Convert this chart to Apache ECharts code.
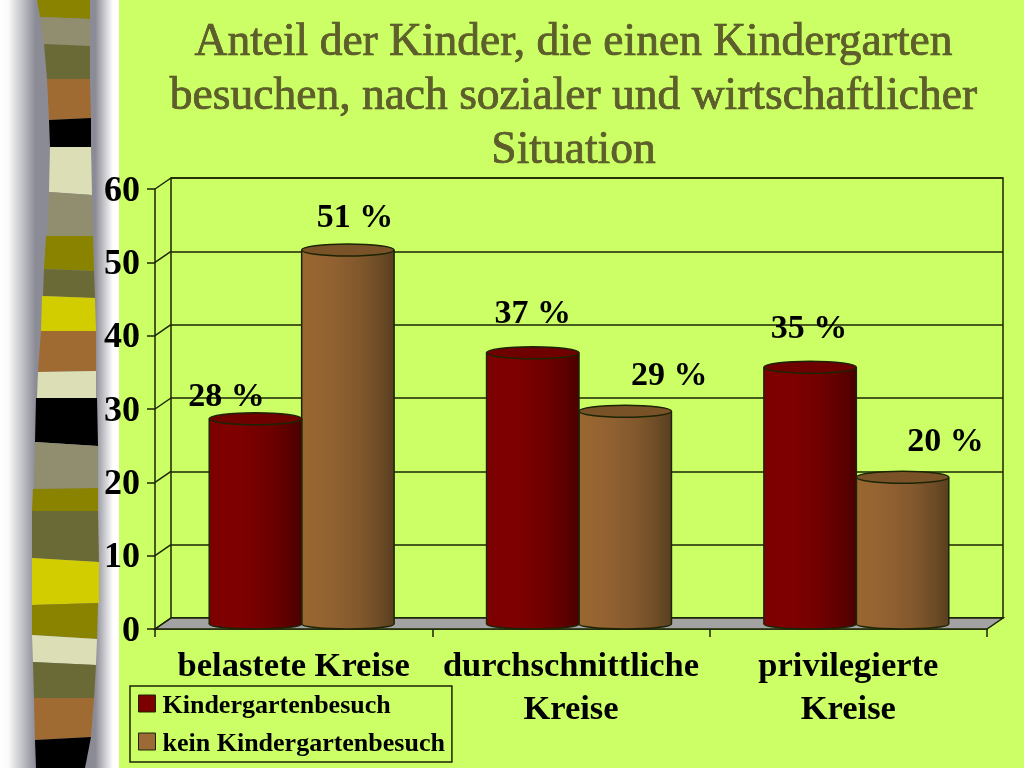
<!DOCTYPE html>
<html lang="de">
<head>
    <meta charset="UTF-8">
    <title>Anteil der Kinder</title>
    <script src="https://cdn.jsdelivr.net/npm/echarts@6/dist/echarts.min.js"></script>
    <style>
        html, body { margin: 0; padding: 0; background: #ccff66; }
        #main { width: 1024px; height: 768px; }
    </style>
</head>
<body>
<div id="main"></div>
<script>
    var titleLines = ['Anteil der Kinder, die einen Kindergarten', 'besuchen, nach sozialer und wirtschaftlicher', 'Situation'];
    var categories = ['belastete Kreise', 'durchschnittliche\nKreise', 'privilegierte\nKreise'];
    var seriesNames = ['Kindergartenbesuch', 'kein Kindergartenbesuch'];
    var besuch = [28, 37, 35];
    var keinBesuch = [51, 29, 20];
    var yTicks = [0, 10, 20, 30, 40, 50, 60];

    var ink = '#1b2404';
    var serif = '"Liberation Serif", serif';

    // the 3d look: three grids, shifted along the depth direction
    var depthX = 16, depthY = 11;

    function grad(stops) {
        return new echarts.graphic.LinearGradient(0, 0, 1, 0, stops.map(function (s) {
            return { offset: s[0], color: s[1] };
        }));
    }
    var redBody = [[0, '#7c0000'], [0.3, '#800000'], [0.65, '#6e0000'], [0.85, '#5c0000'], [1, '#4a0000']];
    var brownBody = [[0, '#99672f'], [0.3, '#936232'], [0.65, '#80572c'], [0.85, '#6c4b26'], [1, '#583e20']];

    // label shift from the bar centre, as in the original slide
    var labelShift = [
        [[-29, -21], [7, -32]],
        [[0, -38], [44, -35]],
        [[-1, -38], [43, -35]]
    ];

    function cylinder(seriesIdx, body, topColor) {
        return function (params, api) {
            var cat = api.value(0), val = api.value(1);
            var p = api.coord([cat, val]);
            var base = api.coord([cat, 0]);
            var w = api.size([1, 0])[0] / 3;
            var cx = p[0] + (seriesIdx === 0 ? -w / 2 : w / 2);
            var rx = w / 2;
            var line = { stroke: ink, lineWidth: 1.5 };
            var shift = labelShift[cat][seriesIdx];
            return {
                type: 'group',
                children: [
                    { type: 'ellipse', shape: { cx: cx, cy: base[1], rx: rx, ry: 5 }, style: { fill: grad(body), stroke: ink, lineWidth: 1.5 } },
                    { type: 'rect', shape: { x: cx - rx, y: p[1], width: w, height: base[1] - p[1] }, style: { fill: grad(body) } },
                    { type: 'line', shape: { x1: cx - rx, y1: p[1], x2: cx - rx, y2: base[1] }, style: line },
                    { type: 'line', shape: { x1: cx + rx, y1: p[1], x2: cx + rx, y2: base[1] }, style: line },
                    { type: 'ellipse', shape: { cx: cx, cy: p[1], rx: rx, ry: 6 }, style: { fill: topColor, stroke: ink, lineWidth: 1.5 } },
                    {
                        type: 'text',
                        x: cx + shift[0], y: p[1] + shift[1],
                        style: {
                            text: val + ' %', fill: '#000', align: 'center', verticalAlign: 'middle',
                            font: 'bold 34px ' + serif
                        }
                    }
                ]
            };
        };
    }

    // floor plus the slanted lines on the left wall, all hung on the front axis
    function renderWall(params, api) {
        var p = api.coord([0, api.value(0)]);
        var x = p[0] - api.size([1, 0])[0] / 2;
        var children = [
            { type: 'line', shape: { x1: x, y1: p[1], x2: x + depthX, y2: p[1] - depthY }, style: { stroke: ink, lineWidth: 1.5 } }
        ];
        if (api.value(0) === 0) {
            var w = api.size([1, 0])[0] * 3;
            children.unshift({
                type: 'polygon',
                shape: { points: [[x, p[1]], [x + depthX, p[1] - depthY], [x + w + depthX, p[1] - depthY], [x + w, p[1]]] },
                style: { fill: '#a3a3a3', stroke: ink, lineWidth: 1.5 }
            });
        }
        return { type: 'group', children: children };
    }

    // decorative strip on the left side of the slide
    var stripColors = { olive: '#8a8300', khaki: '#918d6f', dark: '#6a6a36', brown: '#a06b33', black: '#000000', cream: '#dcdfb6', yellow: '#d1cd00' };
    var stripBands = [
        ['olive', [37, 0], [90, 0], [90, 19], [40, 17]],
        ['khaki', [40, 17], [90, 19], [90, 46], [44, 44]],
        ['dark', [44, 44], [90, 46], [90, 79], [47, 79]],
        ['brown', [47, 79], [90, 79], [91, 118], [49, 120]],
        ['black', [49, 120], [91, 118], [91, 147], [50, 147]],
        ['cream', [50, 147], [91, 147], [92, 195], [49, 192]],
        ['khaki', [49, 192], [92, 195], [93, 236], [47, 236]],
        ['olive', [46, 236], [93, 236], [94, 271], [44, 269]],
        ['dark', [44, 269], [94, 271], [95, 298], [43, 296]],
        ['yellow', [42, 296], [95, 298], [96, 331], [41, 331]],
        ['brown', [41, 331], [96, 331], [96, 371], [38, 372]],
        ['cream', [38, 372], [96, 371], [96, 398], [37, 398]],
        ['black', [36, 398], [97, 398], [98, 446], [35, 442]],
        ['khaki', [35, 442], [98, 446], [98, 488], [34, 489]],
        ['olive', [33, 489], [98, 488], [98, 511], [32, 511]],
        ['dark', [32, 511], [98, 511], [99, 562], [32, 558]],
        ['yellow', [32, 558], [99, 562], [99, 603], [32, 605]],
        ['olive', [32, 605], [98, 603], [97, 639], [32, 635]],
        ['cream', [32, 635], [97, 639], [96, 665], [33, 662]],
        ['dark', [33, 662], [96, 665], [94, 698], [34, 698]],
        ['brown', [34, 698], [94, 698], [91, 737], [35, 740]],
        ['black', [35, 740], [91, 737], [85, 768], [36, 768]]
    ];
    var strip = [{
        type: 'rect', z: 0,
        shape: { x: 0, y: 0, width: 119, height: 768 },
        style: {
            fill: new echarts.graphic.LinearGradient(0, 0, 1, 0, [
                { offset: 0, color: '#ffffff' }, { offset: 0.07, color: '#fafafa' }, { offset: 0.3, color: '#8b8b96' },
                { offset: 0.8, color: '#8b8b96' }, { offset: 0.95, color: '#ffffff' }, { offset: 1, color: '#ffffff' }
            ])
        }
    }];
    stripBands.forEach(function (b) {
        strip.push({ type: 'polygon', z: 1, shape: { points: b.slice(1) }, style: { fill: stripColors[b[0]] } });
    });

    var myChart = echarts.init(document.getElementById('main'), null, { renderer: 'canvas' });

    var option = {
        animation: false,
        backgroundColor: '#ccff66',
        graphic: strip,
        title: {
            text: titleLines.join('\n'),
            left: 568.5, top: 11, textAlign: 'center',
            textStyle: {
                fontFamily: serif, fontSize: 45.5, fontWeight: 'normal', lineHeight: 54, color: '#5e5e2c',
                textBorderColor: '#3f3f1a', textBorderWidth: 0.7,
                textShadowColor: '#2e2e10', textShadowBlur: 0, textShadowOffsetX: 1.5, textShadowOffsetY: 1.5
            }
        },
        legend: {
            left: 130, top: 686, orient: 'vertical',
            data: seriesNames,
            icon: 'rect', itemWidth: 17, itemHeight: 17, itemGap: 12,
            padding: [7.5, 7, 4.5, 8],
            borderColor: ink, borderWidth: 1.5,
            selectedMode: false,
            itemStyle: { borderColor: ink, borderWidth: 1 },
            formatter: '{t|{name}}',
            textStyle: {
                fontFamily: serif, fontSize: 26, fontWeight: 'bold', color: '#000',
                rich: { t: { fontFamily: serif, fontSize: 26, fontWeight: 'bold', color: '#000', padding: [6, 0, 0, 2] } }
            }
        },
        grid: [
            { left: 155, width: 832, top: 189, height: 440 },   // front: axes
            { left: 163, width: 832, top: 184, height: 440 },   // middle: bars
            { left: 171, width: 832, top: 178, height: 440, show: true, borderColor: ink, borderWidth: 1.5, backgroundColor: 'transparent' },   // back wall
            { left: 155, width: 832, top: 191.5, height: 440 }  // only the y labels, they sit a bit under their ticks
        ],
        xAxis: [
            {
                gridIndex: 0, type: 'category', data: categories,
                axisLine: { lineStyle: { color: ink, width: 1.5 } },
                axisTick: { show: true, length: 8, alignWithLabel: false, lineStyle: { color: ink, width: 1.5 } },
                axisLabel: { interval: 0, margin: 17, color: '#000', fontFamily: serif, fontSize: 34.5, fontWeight: 'bold', lineHeight: 43 }
            },
            { gridIndex: 1, type: 'category', data: categories, show: false },
            { gridIndex: 2, type: 'category', data: categories, show: false },
            { gridIndex: 3, type: 'category', data: categories, show: false }
        ],
        yAxis: [
            {
                gridIndex: 0, type: 'value', min: 0, max: 60, interval: 10,
                axisLine: { show: true, lineStyle: { color: ink, width: 1.5 } },
                axisTick: { show: true, length: 8, lineStyle: { color: ink, width: 1.5 } },
                axisLabel: { show: false },
                splitLine: { show: false }
            },
            { gridIndex: 1, type: 'value', min: 0, max: 60, interval: 10, show: false, splitLine: { show: false } },
            {
                gridIndex: 2, type: 'value', min: 0, max: 60, interval: 10,
                axisLine: { show: false }, axisTick: { show: false }, axisLabel: { show: false },
                splitLine: { show: true, lineStyle: { color: ink, width: 1.5 } }
            },
            {
                gridIndex: 3, type: 'value', min: 0, max: 60, interval: 10,
                axisLine: { show: false }, axisTick: { show: false }, splitLine: { show: false },
                axisLabel: { margin: 15, color: '#000', fontFamily: serif, fontSize: 36, fontWeight: 'bold' }
            }
        ],
        series: [
            {
                type: 'custom', name: 'wall', xAxisIndex: 0, yAxisIndex: 0, z: 1, clip: false,
                data: yTicks.map(function (t) { return [t]; }),
                encode: { y: 0 },
                renderItem: renderWall
            },
            {
                type: 'custom', name: seriesNames[0], xAxisIndex: 1, yAxisIndex: 1, z: 3, clip: false,
                itemStyle: { color: '#7c0000' },
                data: besuch.map(function (v, i) { return [i, v]; }),
                encode: { x: 0, y: 1 },
                renderItem: cylinder(0, redBody, '#6f0000')
            },
            {
                type: 'custom', name: seriesNames[1], xAxisIndex: 1, yAxisIndex: 1, z: 2, clip: false,
                itemStyle: { color: '#9c6a35' },
                data: keinBesuch.map(function (v, i) { return [i, v]; }),
                encode: { x: 0, y: 1 },
                renderItem: cylinder(1, brownBody, '#7a5228')
            }
        ]
    };
    myChart.setOption(option);
</script>
</body>
</html>
